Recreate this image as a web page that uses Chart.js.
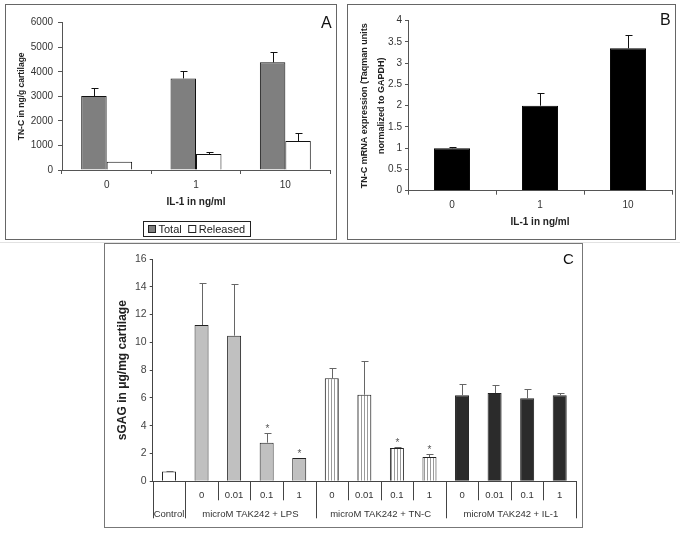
<!DOCTYPE html>
<html>
<head>
<meta charset="utf-8">
<script src="https://cdn.jsdelivr.net/npm/chart.js@4.4.1/dist/chart.umd.min.js"></script>
<style>
  body { margin: 0; width: 685px; height: 533px; position: relative; background: #fff; overflow: hidden; font-family: 'Liberation Sans', Arial, sans-serif; }
  .panel { position: absolute; border: 1px solid #666; box-sizing: border-box; background: #fff; }
  .panel canvas { position: absolute; left: 0; top: 0; }
  .tag { position: absolute; line-height: 1; color: #111; }
  .rule { position: absolute; left: 0; top: 242px; width: 680px; height: 1px; background: #e2e2e2; }
</style>
</head>
<body>
<div class="rule"></div>
<div class="panel" style="left:5px;top:4px;width:332px;height:236px">
  <canvas id="chartA" width="330" height="234"></canvas>
  <div class="tag" style="left:315px;top:10px;font-size:16px">A</div>
</div>
<div class="panel" style="left:347px;top:4px;width:329px;height:236px">
  <canvas id="chartB" width="327" height="234"></canvas>
  <div class="tag" style="left:312px;top:7px;font-size:16px">B</div>
</div>
<div class="panel" style="left:104px;top:243px;width:479px;height:285px;border-color:#777">
  <canvas id="chartC" width="477" height="283"></canvas>
  <div class="tag" style="left:458px;top:7px;font-size:15px">C</div>
</div>
<script>
// panel A: TN-C protein
const doseLabels = ["0", "1", "10"];
const tncTotal = [3010, 3730, 4385];
const tncTotalErr = [315, 285, 420];
const tncReleased = [335, 650, 1180];
const tncReleasedErr = [0, 95, 310];

// panel B: TN-C mRNA
const mrna = [1.0, 2.0, 3.35];
const mrnaErr = [0.03, 0.31, 0.31];

// panel C: sGAG release
const groupLabels = ["Control", "microM TAK242 + LPS", "microM TAK242 + TN-C", "microM TAK242 + IL-1"];
const groupSizes = [1, 4, 4, 4];
const tak242Doses = ["", "0", "0.01", "0.1", "1", "0", "0.01", "0.1", "1", "0", "0.01", "0.1", "1"];
const sgag = [0.7, 11.25, 10.48, 2.78, 1.68, 7.41, 6.23, 2.4, 1.75, 6.19, 6.35, 5.97, 6.19];
const sgagErr = [0.06, 3.05, 3.7, 0.72, 0, 0.72, 2.4, 0.1, 0.21, 0.8, 0.58, 0.65, 0.2];
const sgagSig = [false, false, false, true, true, false, false, true, true, false, false, false, false];

Chart.defaults.font.family = "'Liberation Sans', Arial, sans-serif";
Chart.defaults.color = '#333';
Chart.defaults.animation = false;
Chart.defaults.plugins.legend.display = false;
Chart.defaults.plugins.tooltip.enabled = false;

const plain = v => String(v);

// upward-only error bars (+ optional asterisk)
const errorBars = {
  id: 'errorBars',
  afterDatasetsDraw(chart, args, opts) {
    const { ctx } = chart;
    const y = chart.scales.y;
    chart.data.datasets.forEach((ds, i) => {
      if (!ds.errors) return;
      const meta = chart.getDatasetMeta(i);
      ctx.save();
      ctx.strokeStyle = opts.color;
      ctx.lineWidth = 1;
      meta.data.forEach((bar, j) => {
        const e = ds.errors[j];
        const top = Math.round(y.getPixelForValue(ds.data[j] + e)) + 0.5;
        const x = Math.round(bar.x) + 0.5;
        if (e) {
          ctx.beginPath();
          ctx.moveTo(x, bar.y);
          ctx.lineTo(x, top);
          ctx.moveTo(x - opts.cap, top);
          ctx.lineTo(x + opts.cap + 1, top);
          ctx.stroke();
        }
        if (ds.stars && ds.stars[j]) {
          ctx.fillStyle = '#555';
          ctx.font = "10px 'Liberation Sans', Arial, sans-serif";
          ctx.textAlign = 'center';
          ctx.textBaseline = 'alphabetic';
          ctx.fillText('*', x, top - 2);
        }
      });
      ctx.restore();
    });
  }
};

// boxed legend under panel A
const boxLegend = {
  id: 'boxLegend',
  afterDraw(chart) {
    const { ctx, chartArea: a } = chart;
    const items = chart.data.datasets;
    ctx.save();
    ctx.font = "11px 'Liberation Sans', Arial, sans-serif";
    const sq = 7, gap = 3, sep = 7, pad = 5, h = 15;
    let w = pad * 2;
    items.forEach((d, i) => { w += sq + gap + ctx.measureText(d.label).width + (i ? sep : 0); });
    const x0 = Math.round((a.left + a.right) / 2 - w / 2) + 0.5;
    const y0 = chart.height - 17.5;
    ctx.strokeStyle = '#222';
    ctx.lineWidth = 1;
    ctx.strokeRect(x0, y0, Math.round(w), h);
    let x = x0 + pad;
    const cy = y0 + h / 2;
    items.forEach((d, i) => {
      if (i) x += sep;
      ctx.fillStyle = d.backgroundColor;
      ctx.fillRect(x, cy - 3.5, sq, sq);
      ctx.strokeRect(x, cy - 3.5, sq, sq);
      x += sq + gap;
      ctx.fillStyle = '#222';
      ctx.textBaseline = 'middle';
      ctx.fillText(d.label, x, cy + 0.5);
      x += ctx.measureText(d.label).width;
    });
    ctx.restore();
  }
};

// two-row category table under panel C
const groupTable = {
  id: 'groupTable',
  afterDraw(chart) {
    const { ctx, chartArea: a, scales: { x } } = chart;
    const axisY = a.bottom;
    const longEnd = axisY + 37, shortEnd = axisY + 19;
    const starts = [0];
    groupSizes.forEach(n => starts.push(starts[starts.length - 1] + n));
    ctx.save();
    ctx.strokeStyle = '#444';
    ctx.lineWidth = 1;
    for (let i = 0; i <= tak242Doses.length; i++) {
      const px = Math.round(x.getPixelForValue(i - 0.5)) + 0.5;
      ctx.beginPath();
      ctx.moveTo(px, axisY);
      ctx.lineTo(px, starts.includes(i) ? longEnd : shortEnd);
      ctx.stroke();
    }
    ctx.fillStyle = '#333';
    ctx.font = "9.5px 'Liberation Sans', Arial, sans-serif";
    ctx.textAlign = 'center';
    ctx.textBaseline = 'middle';
    groupLabels.forEach((g, k) => {
      const mid = (starts[k] + starts[k + 1] - 1) / 2;
      ctx.fillText(g, x.getPixelForValue(mid), axisY + 32.7);
    });
    ctx.restore();
  }
};

new Chart(document.getElementById('chartA'), {
  type: 'bar',
  data: {
    labels: doseLabels,
    datasets: [
      { label: 'Total', data: tncTotal, errors: tncTotalErr, backgroundColor: '#7f7f7f', borderColor: '#111', borderWidth: 1 },
      { label: 'Released', data: tncReleased, errors: tncReleasedErr, backgroundColor: '#ffffff', borderColor: '#111', borderWidth: 1 },
    ],
  },
  options: {
    responsive: false,
    categoryPercentage: 0.57,
    barPercentage: 1,
    layout: { padding: { top: 17.7, right: 6, bottom: 0, left: 0 } },
    plugins: { errorBars: { color: '#111', cap: 3 } },
    scales: {
      x: {
        afterFit: s => { s.height = 69; },
        border: { color: '#555' },
        grid: { drawOnChartArea: false, tickLength: 4, color: '#555' },
        ticks: { padding: 5, font: { size: 10 }, color: '#333' },
        title: { display: true, text: 'IL-1 in ng/ml', color: '#222', font: { size: 10, weight: 'bold' }, padding: { top: 0, bottom: 30.7 } },
      },
      y: {
        min: 0,
        max: 6000,
        afterFit: s => { s.width = 56; },
        border: { color: '#555' },
        grid: { drawOnChartArea: false, tickLength: 4, color: '#555' },
        ticks: { stepSize: 1000, padding: 5, font: { size: 10 }, color: '#333', callback: plain },
        title: { display: true, text: 'TN-C in ng/g cartilage', color: '#222', font: { size: 8.5, weight: 'bold' }, padding: { top: 11, bottom: 0 } },
      },
    },
  },
  plugins: [errorBars, boxLegend],
});

new Chart(document.getElementById('chartB'), {
  type: 'bar',
  data: {
    labels: doseLabels,
    datasets: [
      { label: 'mRNA', data: mrna, errors: mrnaErr, backgroundColor: '#000', borderColor: '#000', borderWidth: 1 },
    ],
  },
  options: {
    responsive: false,
    categoryPercentage: 1,
    barPercentage: 0.41,
    layout: { padding: { top: 15.7, right: 3, bottom: 0, left: 0 } },
    plugins: { errorBars: { color: '#111', cap: 3 } },
    scales: {
      x: {
        afterFit: s => { s.height = 48.3; },
        border: { color: '#555' },
        grid: { drawOnChartArea: false, tickLength: 4, color: '#555' },
        ticks: { padding: 4.3, font: { size: 10 }, color: '#333' },
        title: { display: true, text: 'IL-1 in ng/ml', color: '#222', font: { size: 10, weight: 'bold' }, padding: { top: 0, bottom: 11 } },
      },
      y: {
        min: 0,
        max: 4,
        afterFit: s => { s.width = 60; },
        border: { color: '#555' },
        grid: { drawOnChartArea: false, tickLength: 3, color: '#555' },
        ticks: { stepSize: 0.5, padding: 3, font: { size: 10 }, color: '#333', callback: plain },
        title: {
          display: true,
          text: ['TN-C mRNA expression (Taqman units', 'normalized to GAPDH)'],
          color: '#222',
          font: { size: 9, weight: 'bold', lineHeight: '16.7px' },
          padding: { top: 8.65, bottom: 0 },
        },
      },
    },
  },
  plugins: [errorBars],
});

const ctxC = document.getElementById('chartC').getContext('2d');
const stripeTile = document.createElement('canvas');
stripeTile.width = 3;
stripeTile.height = 4;
const st = stripeTile.getContext('2d');
st.fillStyle = '#fff';
st.fillRect(0, 0, 3, 4);
st.fillStyle = '#9a9a9a';
st.fillRect(1, 0, 1, 4);
const groupFills = ['#ffffff', '#c0c0c0', ctxC.createPattern(stripeTile, 'repeat'), '#2b2b2b'];
const barFills = [];
groupSizes.forEach((n, k) => { for (let i = 0; i < n; i++) barFills.push(groupFills[k]); });

new Chart(ctxC, {
  type: 'bar',
  data: {
    labels: tak242Doses,
    datasets: [
      { label: 'sGAG', data: sgag, errors: sgagErr, stars: sgagSig, backgroundColor: barFills, borderColor: '#222', borderWidth: 1 },
    ],
  },
  options: {
    responsive: false,
    categoryPercentage: 1,
    barPercentage: 0.43,
    layout: { padding: { top: 15, right: 6, bottom: 0, left: 0 } },
    plugins: { errorBars: { color: '#666', cap: 3 } },
    scales: {
      x: {
        afterFit: s => { s.height = 45.7; },
        border: { color: '#444' },
        grid: { display: false, drawTicks: false },
        ticks: { autoSkip: false, maxRotation: 0, padding: 8.7, font: { size: 9.5 }, color: '#333' },
      },
      y: {
        min: 0,
        max: 16,
        afterFit: s => { s.width = 47.7; },
        border: { color: '#444' },
        grid: { drawOnChartArea: false, tickLength: 3, color: '#444' },
        ticks: { stepSize: 2, padding: 3, font: { size: 10.5 }, color: '#444', callback: plain },
        title: { display: true, text: 'sGAG in μg/mg cartilage', color: '#222', font: { size: 12, weight: 'bold' }, padding: { top: 10.8, bottom: 0 } },
      },
    },
  },
  plugins: [errorBars, groupTable],
});
</script>
</body>
</html>
